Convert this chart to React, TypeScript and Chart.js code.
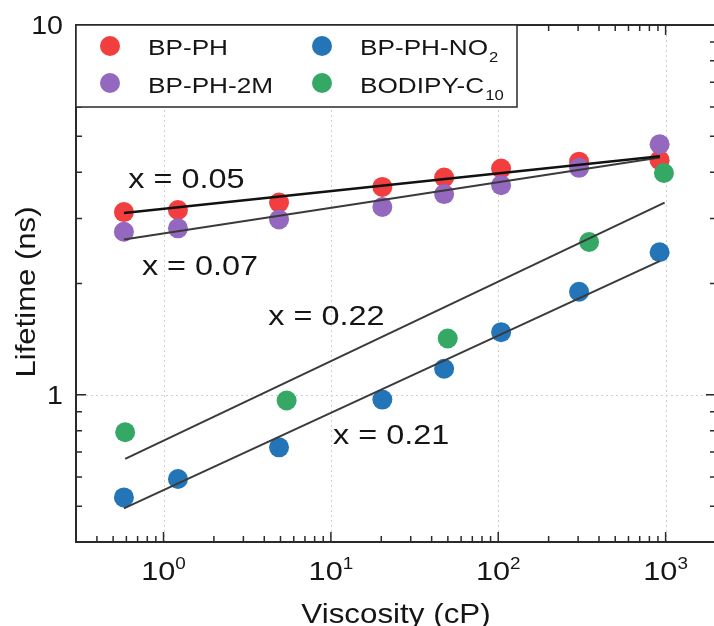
import React, { useEffect, useRef } from 'react';
import { Chart, registerables } from 'chart.js';
Chart.register(...registerables);

// ---------- data ----------
const viscosity = [0.58, 1.22, 4.9, 20.3, 47.5, 104, 304, 921];
const lifetimeBPPH = [3.12, 3.16, 3.31, 3.65, 3.87, 4.09, 4.27, 4.31];
const lifetimeBPPH2M = [2.76, 2.82, 2.98, 3.22, 3.49, 3.69, 4.11, 4.76];
const lifetimeBPPHNO2 = [0.528, 0.592, 0.721, 0.971, 1.176, 1.477, 1.9, 2.43];
const viscosityBodipy = [0.59, 5.44, 49.9, 349, 977];
const lifetimeBodipy = [0.792, 0.965, 1.42, 2.59, 3.98];

// fitted lines (end points)
const fitXBPPH = [0.58, 925];
const fitYBPPH = [3.1, 4.42];
const fitXBPPH2M = [0.58, 925];
const fitYBPPH2M = [2.63, 4.38];
const fitXBodipy = [0.59, 986];
const fitYBodipy = [0.671, 3.31];
const fitXNO2 = [0.58, 921];
const fitYNO2 = [0.493, 2.3];

const fitLabels = ['x = 0.05', 'x = 0.07', 'x = 0.22', 'x = 0.21'];

const seriesNames = ['BP-PH', 'BP-PH-2M', 'BP-PH-NO', 'BODIPY-C'];
const seriesSubs = ['', '', '2', '10'];

const xTickValues = [1, 10, 100, 1000];
const xTickExps = ['0', '1', '2', '3'];
const yTickValues = [1, 10];
const yTickLabels = ['1', '10'];

const xTitle = 'Viscosity (cP)';
const yTitle = 'Lifetime (ns)';

// ---------- styles ----------
const COLORS = ['#F23E3E', '#9368BE', '#2474B8', '#35A866'];
const FONT = '"Liberation Sans", Arial, Helvetica, sans-serif';
const TEXT = '#151515';
const AXIS = '#2a2a2a';

// label anchors in data coordinates
const fitLabelAnchors = [
  { x: 0.616, y: 3.62 },
  { x: 0.743, y: 2.104 },
  { x: 4.225, y: 1.54 },
  { x: 10.3, y: 0.734 },
];

const zip = (xs: number[], ys: number[]) => xs.map((x, i) => ({ x, y: ys[i] }));

function drawText(ctx: CanvasRenderingContext2D, text: string, x: number, y: number, size: number, sx: number, align: 'left' | 'center' | 'right') {
  ctx.save();
  ctx.font = `${size}px ${FONT}`;
  const w = ctx.measureText(text).width * sx;
  const x0 = align === 'center' ? x - w / 2 : align === 'right' ? x - w : x;
  ctx.translate(x0, y);
  ctx.scale(sx, 1);
  ctx.textAlign = 'left';
  ctx.textBaseline = 'alphabetic';
  ctx.fillStyle = TEXT;
  ctx.fillText(text, 0, 0);
  ctx.restore();
  return w;
}

function measure(ctx: CanvasRenderingContext2D, text: string, size: number, sx: number) {
  ctx.save();
  ctx.font = `${size}px ${FONT}`;
  const w = ctx.measureText(text).width * sx;
  ctx.restore();
  return w;
}

function logTicks(min: number, max: number) {
  const out: { v: number; major: boolean }[] = [];
  for (let e = Math.floor(Math.log10(min)); e <= Math.ceil(Math.log10(max)); e++) {
    for (let k = 1; k <= 9; k++) {
      const v = k * Math.pow(10, e);
      if (v >= min * 0.9999 && v <= max * 1.0001) out.push({ v, major: k === 1 });
    }
  }
  return out;
}

const framePlugin = {
  id: 'frame',
  beforeDatasetsDraw(chart: any) {
    const { ctx, chartArea: a, scales } = chart;
    const xs = scales.x, ys = scales.y;
    ctx.save();
    ctx.strokeStyle = '#cfcfcf';
    ctx.lineWidth = 1;
    ctx.setLineDash([2, 3]);
    xTickValues.forEach((v) => {
      const px = Math.round(xs.getPixelForValue(v)) + 0.5;
      ctx.beginPath();
      ctx.moveTo(px, a.top);
      ctx.lineTo(px, a.bottom);
      ctx.stroke();
    });
    yTickValues.forEach((v) => {
      const py = Math.round(ys.getPixelForValue(v)) + 0.5;
      ctx.beginPath();
      ctx.moveTo(a.left, py);
      ctx.lineTo(a.right, py);
      ctx.stroke();
    });
    ctx.restore();
  },
  afterDatasetsDraw(chart: any) {
    const { ctx, chartArea: a, scales } = chart;
    const xs = scales.x, ys = scales.y;
    ctx.save();
    // ticks
    ctx.strokeStyle = AXIS;
    ctx.lineWidth = 1.5;
    const MAJ = 10, MIN = 6;
    logTicks(xs.min, xs.max).forEach(({ v, major }) => {
      const px = xs.getPixelForValue(v);
      const L = major ? MAJ : MIN;
      ctx.beginPath();
      ctx.moveTo(px, a.bottom);
      ctx.lineTo(px, a.bottom - L);
      ctx.moveTo(px, a.top);
      ctx.lineTo(px, a.top + L);
      ctx.stroke();
    });
    logTicks(ys.min, ys.max).forEach(({ v, major }) => {
      const py = ys.getPixelForValue(v);
      const L = major ? MAJ : MIN;
      ctx.beginPath();
      ctx.moveTo(a.left, py);
      ctx.lineTo(a.left + L, py);
      ctx.moveTo(a.right, py);
      ctx.lineTo(a.right - L, py);
      ctx.stroke();
    });
    // frame
    ctx.lineWidth = 2;
    ctx.strokeRect(a.left, a.top, a.right - a.left, a.bottom - a.top);

    // legend box
    const lgL = a.left, lgT = a.top, lgR = 517, lgB = 107;
    ctx.fillStyle = '#ffffff';
    ctx.fillRect(lgL, lgT, lgR - lgL, lgB - lgT);
    ctx.lineWidth = 1.5;
    ctx.strokeStyle = AXIS;
    ctx.strokeRect(lgL, lgT, lgR - lgL, lgB - lgT);
    const cols = [110, 322];
    const rowsC = [46, 83];
    const textX = [148, 360];
    const baselines = [55, 92.5];
    seriesNames.forEach((name, i) => {
      const c = i < 2 ? 0 : 1;
      const r = i % 2;
      ctx.beginPath();
      ctx.fillStyle = COLORS[i];
      ctx.arc(cols[c], rowsC[r], 10, 0, Math.PI * 2);
      ctx.fill();
      const w = drawText(ctx, name, textX[c], baselines[r], 22, 1.19, 'left');
      if (seriesSubs[i]) drawText(ctx, seriesSubs[i], textX[c] + w + 1, baselines[r] + 7, 14, 1.19, 'left');
    });

    // x tick labels
    xTickValues.forEach((v, i) => {
      const px = xs.getPixelForValue(v);
      const w1 = measure(ctx, '10', 26, 1.18);
      const w2 = measure(ctx, xTickExps[i], 16, 1.18);
      const x0 = px - (w1 + w2) / 2;
      drawText(ctx, '10', x0, 580, 26, 1.18, 'left');
      drawText(ctx, xTickExps[i], x0 + w1, 569, 16, 1.18, 'left');
    });
    // y tick labels
    yTickValues.forEach((v, i) => {
      const py = ys.getPixelForValue(v);
      drawText(ctx, yTickLabels[i], 63, py + 9.3, 26, 1.1, 'right');
    });

    // axis titles
    drawText(ctx, xTitle, (a.left + a.right) / 2, 623, 28, 1.12, 'center');
    ctx.save();
    ctx.translate(35, 292);
    ctx.rotate(-Math.PI / 2);
    drawText(ctx, yTitle, 0, 0, 28, 1.11, 'center');
    ctx.restore();

    // fit annotations
    fitLabels.forEach((t, i) => {
      const p = fitLabelAnchors[i];
      drawText(ctx, t, xs.getPixelForValue(p.x), ys.getPixelForValue(p.y), 27, 1.2, 'left');
    });
    ctx.restore();
  },
};

export default function App() {
  const ref = useRef<HTMLCanvasElement | null>(null);
  useEffect(() => {
    if (!ref.current) return;
    const scatter = (label: string, xsArr: number[], ysArr: number[], color: string, order: number) => ({
      type: 'scatter' as const,
      label,
      data: zip(xsArr, ysArr),
      backgroundColor: color,
      borderWidth: 0,
      pointRadius: 10,
      pointHoverRadius: 10,
      showLine: false,
      order,
    });
    const fit = (xsArr: number[], ysArr: number[], color: string, width: number) => ({
      type: 'line' as const,
      label: 'fit',
      data: zip(xsArr, ysArr),
      borderColor: color,
      borderWidth: width,
      pointRadius: 0,
      fill: false,
      order: 0,
    });
    const chart = new Chart(ref.current, {
      type: 'scatter',
      data: {
        datasets: [
          scatter(seriesNames[0], viscosity, lifetimeBPPH, COLORS[0], 4),
          scatter(seriesNames[1], viscosity, lifetimeBPPH2M, COLORS[1], 3),
          scatter(seriesNames[2], viscosity, lifetimeBPPHNO2, COLORS[2], 2),
          scatter(seriesNames[3], viscosityBodipy, lifetimeBodipy, COLORS[3], 1),
          fit(fitXBPPH, fitYBPPH, '#111111', 2.5),
          fit(fitXBPPH2M, fitYBPPH2M, '#3a3a3a', 2),
          fit(fitXBodipy, fitYBodipy, '#3a3a3a', 2),
          fit(fitXNO2, fitYNO2, '#3a3a3a', 2),
        ] as any,
      },
      options: {
        animation: false,
        responsive: false,
        devicePixelRatio: 1,
        layout: { padding: { left: 76, top: 25, right: 24, bottom: 108 } },
        plugins: { legend: { display: false }, tooltip: { enabled: false } },
        scales: {
          x: { type: 'logarithmic', min: 0.3, max: 2000, bounds: 'data', display: false },
          y: { type: 'logarithmic', min: 0.4, max: 10, bounds: 'data', display: false },
        },
      },
      plugins: [framePlugin],
    });
    return () => chart.destroy();
  }, []);
  return (
    <div style={{ position: 'fixed', left: 0, top: 0, width: 714, height: 626, overflow: 'hidden', background: '#fff' }}>
      <canvas ref={ref} width={740} height={650} style={{ display: 'block' }} />
    </div>
  );
}
